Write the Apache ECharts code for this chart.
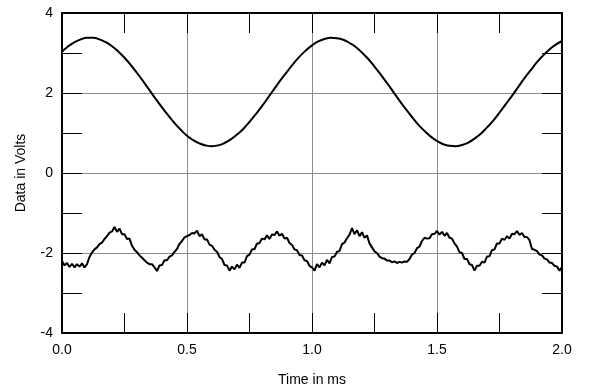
<!DOCTYPE html>
<html>
<head>
<meta charset="utf-8">
<script src="https://cdn.jsdelivr.net/npm/echarts@6/dist/echarts.min.js"></script>
<style>
  html, body { margin: 0; padding: 0; background: #fff; }
  #chart { width: 600px; height: 392px; }
</style>
</head>
<body>
<div id="chart"></div>
<script>
// upper trace, read every 0.025 ms
const sineStep = 0.025;
const sineValues = [
  3.03, 3.17, 3.27, 3.34, 3.38, 3.38, 3.34, 3.27, 3.17, 3.04,
  2.88, 2.70, 2.50, 2.29, 2.07, 1.85, 1.64, 1.44, 1.25, 1.08,
  0.93, 0.82, 0.74, 0.69, 0.67, 0.69, 0.75, 0.84, 0.96, 1.10,
  1.28, 1.47, 1.67, 1.89, 2.11, 2.33, 2.53, 2.73, 2.91, 3.06,
  3.19, 3.29, 3.35, 3.38, 3.37, 3.33, 3.25, 3.15, 3.01, 2.85,
  2.66, 2.46, 2.25, 2.03, 1.81, 1.60, 1.40, 1.21, 1.05, 0.91,
  0.80, 0.72, 0.68, 0.67, 0.70, 0.76, 0.86, 0.98, 1.14, 1.31,
  1.51, 1.72, 1.93, 2.15, 2.37, 2.57, 2.77, 2.94, 3.09, 3.21,
  3.30
];

// lower (noisy) trace, read every 0.01 ms
const noisyStep = 0.01;
const noisyValues = [
  -2.20, -2.31, -2.25, -2.35, -2.27, -2.36, -2.28, -2.34, -2.26, -2.36,
  -2.28, -2.10, -1.99, -1.91, -1.86, -1.78, -1.74, -1.65, -1.58, -1.49,
  -1.46, -1.35, -1.47, -1.39, -1.53, -1.53, -1.65, -1.64, -1.82, -1.92,
  -1.98, -2.06, -2.12, -2.18, -2.24, -2.28, -2.28, -2.36, -2.45, -2.31,
  -2.30, -2.18, -2.18, -2.09, -2.06, -1.97, -1.90, -1.77, -1.70, -1.61,
  -1.58, -1.55, -1.50, -1.51, -1.44, -1.58, -1.53, -1.66, -1.66, -1.79,
  -1.82, -1.92, -1.97, -2.10, -2.15, -2.30, -2.31, -2.44, -2.34, -2.41,
  -2.29, -2.37, -2.24, -2.24, -2.08, -2.04, -1.91, -1.90, -1.77, -1.75,
  -1.64, -1.66, -1.56, -1.65, -1.54, -1.55, -1.46, -1.57, -1.52, -1.64,
  -1.62, -1.75, -1.80, -1.91, -1.93, -2.05, -2.06, -2.18, -2.20, -2.32,
  -2.36, -2.44, -2.28, -2.36, -2.24, -2.31, -2.17, -2.26, -2.10, -2.09,
  -1.97, -1.95, -1.78, -1.74, -1.63, -1.54, -1.38, -1.53, -1.43, -1.58,
  -1.48, -1.62, -1.56, -1.76, -1.86, -1.96, -2.00, -2.09, -2.13, -2.14,
  -2.19, -2.19, -2.23, -2.21, -2.25, -2.22, -2.24, -2.21, -2.22, -2.15,
  -2.04, -2.00, -1.88, -1.84, -1.70, -1.62, -1.64, -1.63, -1.53, -1.52,
  -1.45, -1.54, -1.47, -1.57, -1.50, -1.62, -1.64, -1.76, -1.84, -1.98,
  -2.00, -2.15, -2.15, -2.28, -2.30, -2.44, -2.32, -2.32, -2.22, -2.24,
  -2.09, -2.08, -1.93, -1.91, -1.76, -1.76, -1.64, -1.67, -1.58, -1.64,
  -1.52, -1.53, -1.45, -1.55, -1.50, -1.60, -1.60, -1.68, -1.90, -1.92,
  -1.95, -2.04, -2.06, -2.14, -2.16, -2.24, -2.25, -2.32, -2.34, -2.44,
  -2.35
];

function toPairs(values, step) {
  return values.map((v, i) => [+(i * step).toFixed(3), v]);
}

const textStyle = { color: "#000", fontFamily: "Liberation Sans, Arial, sans-serif", fontSize: 14 };
const gridColor = "#8c8c8c";
const frameLine = { show: true, onZero: false, lineStyle: { color: "#000", width: 2 } };
const innerTick = { show: true, inside: true, length: 20, lineStyle: { color: "#000", width: 1 } };
const halfTick = { show: true, splitNumber: 2, length: 20, lineStyle: { color: "#000", width: 1 } };

let chart = echarts.init(document.getElementById("chart"), null, { renderer: "canvas" });

let option = {
  animation: false,
  backgroundColor: "#fff",
  grid: { left: 62, right: 38, top: 13, bottom: 58, containLabel: false },
  xAxis: [
    {
      type: "value",
      min: 0,
      max: 2,
      interval: 0.5,
      name: "Time in ms",
      nameLocation: "middle",
      nameGap: 40,
      nameTextStyle: textStyle,
      axisLine: frameLine,
      axisTick: innerTick,
      minorTick: halfTick,
      axisLabel: Object.assign({ margin: 10, formatter: (v) => v.toFixed(1) }, textStyle),
      splitLine: { show: true, lineStyle: { color: gridColor, width: 1 } },
    },
    {
      type: "value",
      position: "top",
      min: 0,
      max: 2,
      interval: 0.5,
      axisLine: frameLine,
      axisTick: innerTick,
      minorTick: halfTick,
      axisLabel: { show: false },
      splitLine: { show: false },
    },
  ],
  yAxis: [
    {
      type: "value",
      min: -4,
      max: 4,
      interval: 2,
      name: "Data in Volts",
      nameLocation: "middle",
      nameGap: 34,
      nameRotate: 90,
      nameTextStyle: textStyle,
      axisLine: frameLine,
      axisTick: innerTick,
      minorTick: halfTick,
      axisLabel: Object.assign({ margin: 9 }, textStyle),
      splitLine: { show: true, lineStyle: { color: gridColor, width: 1 } },
    },
    {
      type: "value",
      position: "right",
      min: -4,
      max: 4,
      interval: 2,
      axisLine: frameLine,
      axisTick: innerTick,
      minorTick: halfTick,
      axisLabel: { show: false },
      splitLine: { show: false },
    },
  ],
  series: [
    {
      name: "upper",
      type: "line",
      xAxisIndex: 0,
      yAxisIndex: 0,
      smooth: true,
      showSymbol: false,
      data: toPairs(sineValues, sineStep),
      lineStyle: { color: "#000", width: 2 },
    },
    {
      name: "lower",
      type: "line",
      xAxisIndex: 0,
      yAxisIndex: 0,
      showSymbol: false,
      data: toPairs(noisyValues, noisyStep),
      lineStyle: { color: "#000", width: 2 },
    },
  ],
};

option && chart.setOption(option);
</script>
</body>
</html>
